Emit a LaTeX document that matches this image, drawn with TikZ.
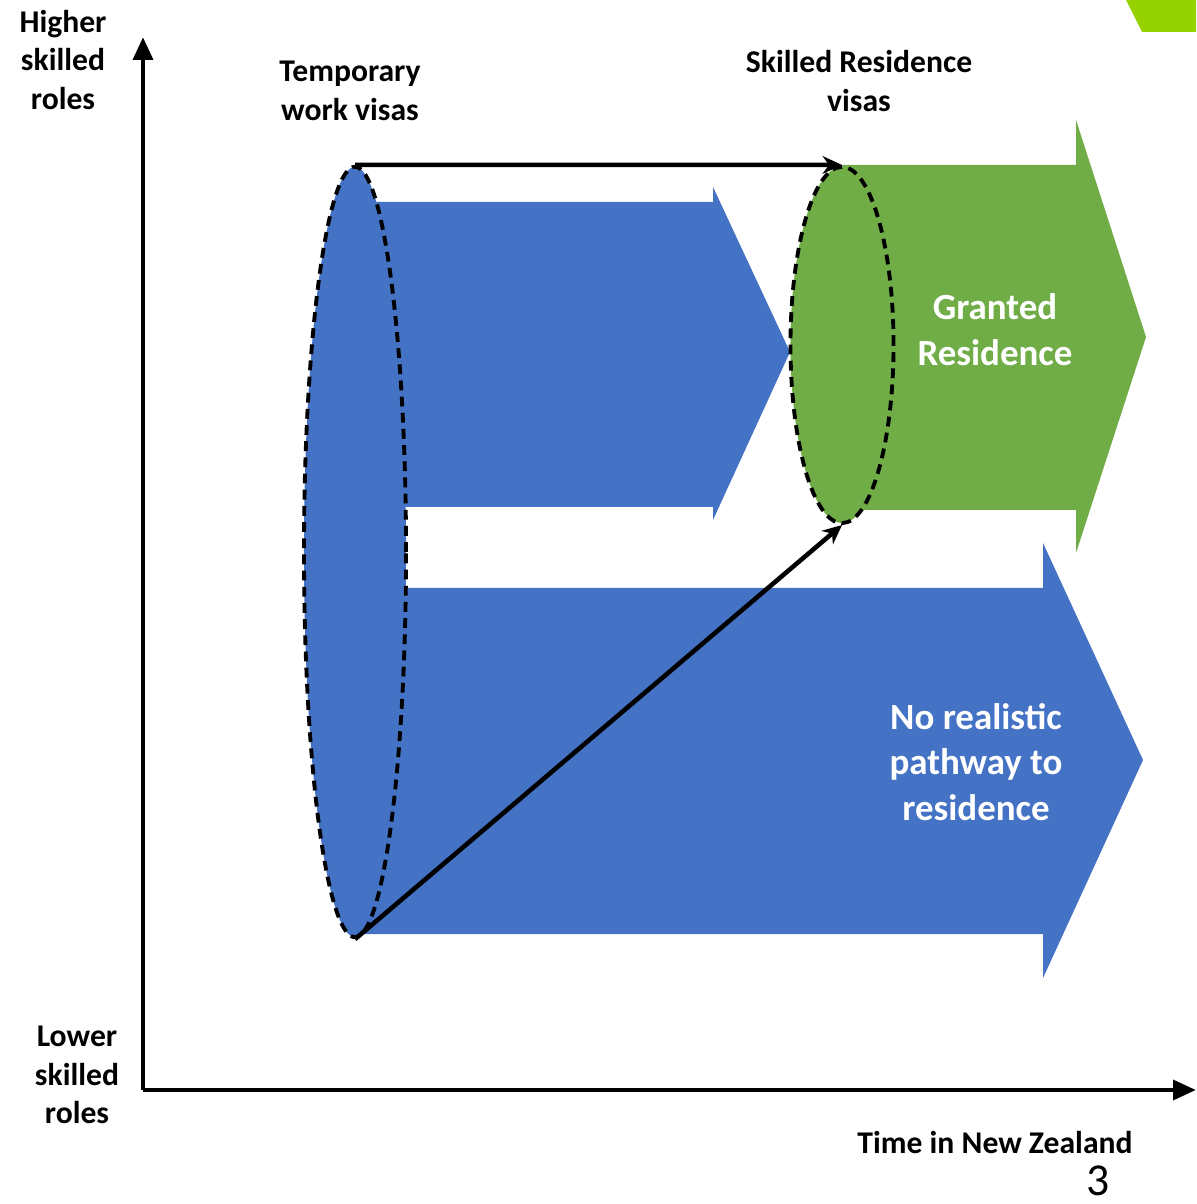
\documentclass[tikz,border=0pt]{standalone}
\usepackage{fontspec}
\setmainfont{Carlito}
\usetikzlibrary{arrows.meta}
\usetikzlibrary{shapes.geometric}

\definecolor{visablue}{RGB}{68,114,196}
\definecolor{visagreen}{RGB}{112,173,71}
\definecolor{cornergreen}{RGB}{150,210,0}

\tikzset{
  axislabel/.style={font=\bfseries\fontsize{9}{11}\selectfont, align=center, text=black},
  bandlabel/.style={font=\bfseries\fontsize{10.5}{13}\selectfont, align=center, text=white},
  visaring/.style={ellipse, draw=black, line width=1.1pt, dash pattern=on 2.8pt off 1.8pt, inner sep=0pt},
  flowline/.style={black, line width=1.3pt, -{Stealth[length=5.5pt,width=5pt]}}
}

\begin{document}
\begin{tikzpicture}[x=0.01cm, y=-0.01cm]
\useasboundingbox (0,0) rectangle (1196,1204);

\coordinate (O) at (143,1090);
\coordinate (Ytop) at (143,37);
\coordinate (Xend) at (1196,1090);

% corner mark
\fill[cornergreen] (1126,0) -- (1196,0) -- (1196,32) -- (1142,32) -- cycle;

% shape arrows
\fill[visablue] (355,202) -- (713,202) -- (713,187) -- (790,352) -- (713,520) -- (713,507) -- (355,507) -- cycle;
\fill[visablue] (355,588) -- (1043,588) -- (1043,543) -- (1143,760) -- (1043,978) -- (1043,934) -- (355,934) -- cycle;
\fill[visagreen] (843,165) -- (1076,165) -- (1076,120) -- (1146,337) -- (1076,553) -- (1076,510) -- (843,510) -- cycle;

\node[visaring, fill=visablue, minimum width=1.02cm, minimum height=7.70cm] (tmp) at (355,552) {};
\node[visaring, fill=visagreen, minimum width=1.03cm, minimum height=3.56cm] (res) at (842,345) {};

\draw[flowline] (tmp.north) -- (res.north);
\draw[flowline] (tmp.south) -- (res.south);

% axes
\draw[black, line width=1.4pt, -{Triangle[length=6.5pt,width=5.5pt]}] (O) -- (Ytop);
\draw[black, line width=1.4pt, -{Triangle[length=6.5pt,width=5.5pt]}] (O) -- (Xend);

\node[axislabel] (hi) at (63,60) {Higher\\skilled\\roles};
\node[axislabel] (lo) at (77,1075) {Lower\\skilled\\roles};
\node[axislabel] (temp) at (350,91) {Temporary\\work visas};
\node[axislabel] (skres) at (859,81) {Skilled Residence\\visas};
\node[axislabel] (time) at (995,1142) {Time in New Zealand};
\node[bandlabel] (granted) at (995,330) {Granted\\Residence};
\node[bandlabel] (nopath) at (976,762) {No realistic\\pathway to\\residence};
\node[font=\fontsize{13}{15}\selectfont, inner sep=0pt] (page) at (1098,1181) {3};

\end{tikzpicture}
\end{document}
